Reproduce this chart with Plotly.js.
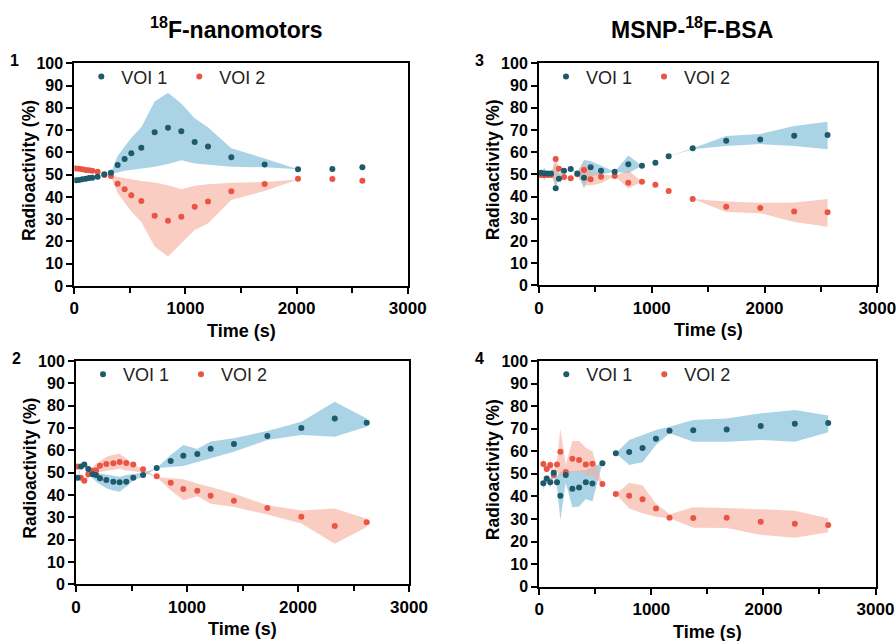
<!DOCTYPE html>
<html>
<head>
<meta charset="utf-8">
<script src="https://cdn.plot.ly/plotly-3.0.1.min.js"></script>
<style>html,body{margin:0;padding:0;background:#fff;}#chart{width:896px;height:641px;}</style>
</head>
<body>
<div id="chart"></div>
<script>
// ---------- DATA ----------
const seriesNames = ["VOI 1", "VOI 2"];
const columnTitles = ["<sup>18</sup>F-nanomotors", "MSNP-<sup>18</sup>F-BSA"];
const panelLabels = ["1", "2", "3", "4"];
const xTitle = "Time (s)";
const yTitle = "Radioactivity (%)";

// Panel 1 (18F-nanomotors, top)
const p1Time = [13, 42, 72, 103, 132, 162, 210, 270, 330, 390, 453, 513, 603, 723, 843, 963, 1083, 1203, 1413, 1713, 2013, 2322, 2592];
const p1Voi1 = [47.5, 47.6, 47.9, 48.2, 48.5, 48.6, 49.1, 50.2, 50.9, 54.3, 57.0, 59.6, 62.1, 69.0, 71.1, 69.5, 64.7, 62.6, 57.8, 54.6, 52.4, 52.5, 53.3];
const p1Voi2 = [52.8, 52.7, 52.4, 52.1, 52.0, 51.8, 51.3, 49.8, 49.4, 45.9, 43.4, 40.7, 38.2, 31.6, 29.3, 31.1, 35.6, 37.9, 42.5, 45.8, 48.2, 48.0, 47.3];
const p1BandTime = [330, 390, 453, 513, 603, 723, 843, 963, 1083, 1203, 1413, 1713, 2013];
const p1Voi1Hi = [51.0, 58.4, 62.6, 66.6, 71.3, 82.8, 86.8, 82.0, 75.3, 71.3, 61.8, 57.3, 52.4];
const p1Voi1Lo = [50.5, 51.0, 51.8, 52.3, 52.8, 53.5, 54.8, 56.5, 55.0, 54.3, 53.6, 53.3, 52.4];
const p1Voi2Hi = [49.5, 49.0, 48.2, 47.7, 47.2, 46.5, 45.2, 43.5, 45.0, 45.7, 46.4, 46.7, 47.8];
const p1Voi2Lo = [49.0, 41.6, 37.4, 33.4, 28.7, 17.7, 13.2, 19.2, 25.1, 28.1, 38.6, 42.7, 47.8];

// Panel 2 (18F-nanomotors, bottom)
const p2Time = [15, 45, 75, 111, 150, 180, 216, 273, 336, 393, 453, 516, 604, 727, 853, 967, 1093, 1213, 1423, 1724, 2030, 2331, 2619];
const p2Voi1 = [47.7, 52.7, 53.7, 51.6, 49.3, 49.0, 47.5, 46.7, 45.9, 45.7, 45.9, 47.7, 48.9, 52.1, 55.2, 57.6, 58.3, 60.7, 62.8, 66.4, 70.0, 74.3, 72.4];
const p2Voi2 = [52.7, 47.7, 46.4, 49.3, 50.9, 51.1, 53.1, 53.9, 54.2, 54.8, 54.3, 53.6, 51.5, 48.4, 45.5, 42.7, 41.9, 39.7, 37.4, 34.2, 30.3, 26.1, 27.8];
const p2BandTime = p2Time;
const p2Voi1Hi = [47.7, 53.5, 54.5, 52.5, 50.5, 50.0, 49.7, 49.0, 48.6, 48.2, 49.0, 49.4, 50.0, 52.1, 57.9, 62.4, 60.6, 63.9, 65.4, 68.7, 72.8, 81.8, 74.3];
const p2Voi1Lo = [47.7, 52.0, 53.0, 50.5, 47.5, 46.0, 44.8, 43.0, 42.0, 41.5, 43.7, 46.5, 48.2, 52.1, 52.5, 53.0, 54.9, 56.4, 59.4, 64.6, 66.9, 66.1, 70.6];
const p2Voi2Hi = [52.3, 48.0, 47.0, 49.5, 52.5, 54.0, 55.2, 57.0, 58.0, 58.5, 56.3, 53.5, 51.8, 47.9, 47.5, 47.0, 45.1, 43.6, 40.6, 35.4, 33.1, 33.9, 29.4];
const p2Voi2Lo = [52.3, 46.5, 45.5, 47.5, 49.5, 50.0, 50.3, 51.0, 51.4, 51.8, 51.0, 50.6, 50.0, 47.9, 42.1, 37.6, 39.4, 36.1, 34.6, 31.3, 27.2, 18.2, 25.7];

// Panel 3 (MSNP-18F-BSA, top)
const p3Time = [18, 47, 77, 106, 148, 177, 222, 281, 340, 399, 458, 550, 671, 792, 913, 1032, 1150, 1363, 1660, 1962, 2263, 2559];
const p3Voi1 = [50.7, 50.4, 50.4, 50.4, 43.7, 48.0, 51.6, 52.4, 50.4, 48.5, 53.2, 51.6, 51.2, 54.5, 53.9, 55.2, 58.1, 61.7, 65.1, 65.7, 67.4, 67.7];
const p3Voi2 = [49.7, 49.7, 49.7, 49.7, 56.9, 52.5, 48.8, 48.2, 50.0, 51.9, 47.8, 48.9, 49.2, 46.2, 46.7, 45.3, 42.5, 38.9, 35.4, 34.8, 33.2, 32.9];
const p3BandTime = p3Time;
const p3Voi1Hi = [50.7, 53.0, 50.4, 50.4, 55.0, 50.5, 51.6, 52.4, 51.0, 56.4, 56.0, 54.0, 51.2, 58.5, 53.9, 55.2, 58.1, 61.7, 67.2, 68.2, 71.8, 73.7];
const p3Voi1Lo = [50.7, 47.5, 50.4, 50.4, 44.0, 48.0, 51.6, 52.4, 50.0, 43.8, 49.0, 50.0, 51.2, 50.5, 53.9, 55.2, 58.1, 61.3, 62.8, 63.6, 62.7, 61.3];
const p3Voi2Hi = [49.7, 52.0, 49.7, 49.7, 58.5, 52.5, 48.8, 48.2, 50.0, 55.7, 51.0, 50.0, 49.2, 51.8, 46.7, 45.3, 42.5, 38.9, 37.7, 37.2, 37.3, 38.9];
const p3Voi2Lo = [49.7, 47.5, 49.7, 49.7, 46.0, 52.5, 48.8, 48.2, 50.0, 45.2, 45.0, 46.0, 49.2, 43.6, 46.7, 45.3, 42.5, 38.9, 33.0, 32.5, 28.5, 26.4];

// Panel 4 (MSNP-18F-BSA, bottom)
const p4Time = [36, 66, 98, 129, 158, 188, 236, 295, 355, 415, 474, 563, 683, 802, 921, 1041, 1162, 1374, 1672, 1976, 2280, 2578];
const p4Voi1 = [45.8, 47.9, 46.3, 50.5, 46.3, 40.3, 49.5, 43.4, 43.9, 46.3, 45.7, 54.7, 59.1, 59.7, 61.5, 65.6, 69.1, 69.3, 69.6, 71.2, 72.2, 72.5];
const p4Voi2 = [54.4, 52.1, 53.9, 49.5, 54.1, 59.8, 50.8, 56.7, 56.1, 54.1, 54.5, 45.5, 41.1, 40.3, 38.7, 34.6, 30.6, 30.4, 30.6, 28.8, 27.9, 27.3];
const p4BandTime = p4Time;
const p4Voi1Hi = [47.5, 49.5, 48.0, 51.0, 49.0, 51.0, 51.0, 51.3, 51.5, 51.7, 53.2, 54.7, 59.1, 65.0, 67.2, 69.4, 70.9, 73.9, 74.5, 76.8, 78.3, 75.8];
const p4Voi1Lo = [43.0, 46.5, 44.0, 48.5, 44.0, 29.6, 46.0, 35.2, 35.5, 38.9, 37.7, 54.7, 59.1, 53.9, 55.1, 62.8, 68.0, 64.2, 64.2, 65.0, 64.2, 68.4];
const p4Voi2Hi = [57.0, 53.5, 56.0, 51.5, 56.0, 70.2, 54.0, 64.6, 64.5, 61.6, 60.0, 45.5, 41.1, 46.1, 44.8, 36.9, 32.1, 35.2, 34.9, 34.4, 33.7, 30.3];
const p4Voi2Lo = [52.5, 50.5, 52.0, 49.0, 51.0, 49.0, 49.0, 51.0, 51.0, 49.7, 49.0, 45.5, 41.1, 34.7, 32.5, 31.0, 30.3, 26.1, 26.0, 22.9, 21.7, 24.1];

// ---------- STYLE ----------
const dotColors = ["#1d5a6b", "#ea5443"];
const bandColors = ["rgba(113,183,213,0.6)", "rgba(247,172,155,0.6)"];
const FONT = "Arial, 'Liberation Sans', sans-serif";

const panels = [
  {t: p1Time, v1: p1Voi1, v2: p1Voi2, bt: p1BandTime, h1: p1Voi1Hi, l1: p1Voi1Lo, h2: p1Voi2Hi, l2: p1Voi2Lo,
   xd: [74.3, 407.7], yd: [63.3, 286]},
  {t: p2Time, v1: p2Voi1, v2: p2Voi2, bt: p2BandTime, h1: p2Voi1Hi, l1: p2Voi1Lo, h2: p2Voi2Hi, l2: p2Voi2Lo,
   xd: [76, 409], yd: [361, 584.3]},
  {t: p3Time, v1: p3Voi1, v2: p3Voi2, bt: p3BandTime, h1: p3Voi1Hi, l1: p3Voi1Lo, h2: p3Voi2Hi, l2: p3Voi2Lo,
   xd: [539, 877.3], yd: [63.3, 285.3]},
  {t: p4Time, v1: p4Voi1, v2: p4Voi2, bt: p4BandTime, h1: p4Voi1Hi, l1: p4Voi1Lo, h2: p4Voi2Hi, l2: p4Voi2Lo,
   xd: [539.3, 875.5], yd: [361, 586.7]}
];

const W = 896, H = 641;
const traces = [];
const layout = {
  width: W, height: H,
  margin: {l: 0, r: 0, t: 0, b: 0},
  paper_bgcolor: "#fff", plot_bgcolor: "#fff",
  font: {family: FONT, color: "#000"},
  showlegend: true,
  annotations: []
};

panels.forEach((p, i) => {
  const n = i + 1;
  const xa = n === 1 ? "x" : "x" + n;
  const ya = n === 1 ? "y" : "y" + n;
  const lg = n === 1 ? "legend" : "legend" + n;
  const axX = {
    domain: [p.xd[0] / W, p.xd[1] / W], anchor: ya, range: [0, 3000],
    tickvals: [0, 1000, 2000, 3000], ticks: "outside", ticklen: 6, tickwidth: 2, tickcolor: "#000",
    minor: {tickvals: [500, 1500, 2500], ticks: "outside", ticklen: 5, tickwidth: 2, tickcolor: "#000"},
    showline: true, linewidth: 2, linecolor: "#000", mirror: true, showgrid: false, zeroline: false,
    ticklabeloverflow: "allow", automargin: false,
    tickfont: {family: FONT, size: 17, weight: "bold", color: "#000"}
  };
  const axY = {
    domain: [1 - p.yd[1] / H, 1 - p.yd[0] / H], anchor: xa, range: [0, 100],
    dtick: 10, tick0: 0, ticks: "outside", ticklen: 6, tickwidth: 2, tickcolor: "#000",
    showline: true, linewidth: 2, linecolor: "#000", mirror: true, showgrid: false, zeroline: false,
    ticklabeloverflow: "allow", automargin: false,
    tickfont: {family: FONT, size: 16, weight: "bold", color: "#000"}
  };
  layout[n === 1 ? "xaxis" : "xaxis" + n] = axX;
  layout[n === 1 ? "yaxis" : "yaxis" + n] = axY;
  layout[lg] = {
    x: (p.xd[0] + 7) / W, xanchor: "left", y: 1 - (p.yd[0] - 5) / H, yanchor: "top",
    orientation: "h", entrywidth: 53, entrywidthmode: "pixels",
    font: {family: FONT, size: 18, color: "#222"}, bgcolor: "rgba(0,0,0,0)"
  };

  // bands
  const bands = [[p.h1, p.l1], [p.h2, p.l2]];
  bands.forEach((b, k) => {
    traces.push({
      type: "scatter", mode: "lines", xaxis: xa, yaxis: ya,
      x: p.bt.concat(p.bt.slice().reverse()),
      y: b[0].concat(b[1].slice().reverse()),
      fill: "toself", fillcolor: bandColors[k], line: {width: 0, color: bandColors[k]},
      showlegend: false, hoverinfo: "skip"
    });
  });
  // dots (VOI 2 first so VOI 1 sits on top)
  [[p.v2, 1], [p.v1, 0]].forEach(([vals, k]) => {
    traces.push({
      type: "scatter", mode: "markers", xaxis: xa, yaxis: ya, legend: lg,
      x: p.t, y: vals, name: seriesNames[k], legendrank: k + 1,
      marker: {color: dotColors[k], size: 6}
    });
  });

  // axis titles and panel label
  const cx = (p.xd[0] + p.xd[1]) / 2;
  const cy = (p.yd[0] + p.yd[1]) / 2;
  layout.annotations.push({
    xref: "paper", yref: "paper", x: (p.xd[0] - 46) / W, y: 1 - (cy - 4) / H,
    text: yTitle, textangle: -90, showarrow: false, xanchor: "center", yanchor: "middle",
    font: {family: FONT, size: 17.5, weight: "bold", color: "#000"}
  });
  layout.annotations.push({
    xref: "paper", yref: "paper", x: (cx - 0) / W, y: 1 - (p.yd[1] + 45) / H,
    text: xTitle, showarrow: false, xanchor: "center", yanchor: "middle",
    font: {family: FONT, size: 18, weight: "bold", color: "#000"}
  });
  layout.annotations.push({
    xref: "paper", yref: "paper", x: (p.xd[0] - 60) / W, y: 1 - (p.yd[0] - 3) / H,
    text: panelLabels[i], showarrow: false, xanchor: "center", yanchor: "middle",
    font: {family: FONT, size: 16, weight: "bold", color: "#000"}
  });
});

// column titles
[[236, columnTitles[0]], [692, columnTitles[1]]].forEach(([x, txt]) => {
  layout.annotations.push({
    xref: "paper", yref: "paper", x: x / W, y: 1 - 28 / H, text: txt, showarrow: false,
    xanchor: "center", yanchor: "middle",
    font: {family: "'Liberation Sans Narrow', 'Arial Narrow', Arial, sans-serif", size: 23, weight: "bold", color: "#000"}
  });
});

Plotly.newPlot("chart", traces, layout, {displayModeBar: false, staticPlot: true});
</script>
</body>
</html>
